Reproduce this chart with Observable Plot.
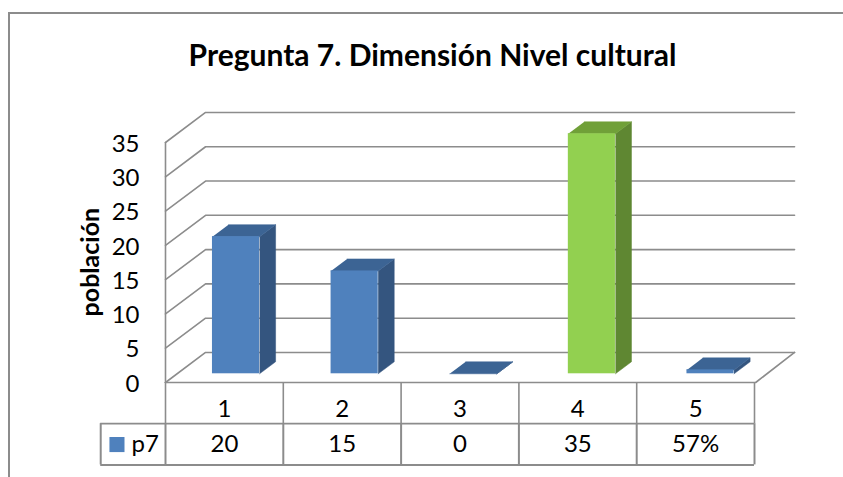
<!DOCTYPE html>
<html lang="es">
<head>
<meta charset="utf-8">
<script src="https://cdn.jsdelivr.net/npm/d3@7"></script>
<script src="https://cdn.jsdelivr.net/npm/@observablehq/plot@0.6"></script>
<style>
  html, body { margin: 0; padding: 0; background: #fff; overflow: hidden; }
  #frame { position: absolute; left: 8px; top: 12px; right: -4px; bottom: -4px;
           border-top: 2px solid #8c8c8c; border-left: 2px solid #8c8c8c; pointer-events: none; }
  #title { height: 90px; box-sizing: border-box; padding-top: 37px; padding-left: 22px; text-align: center;
           font: 700 30px Lato, sans-serif; color: #000; line-height: 34px; white-space: pre; }
  svg { display: block; }
</style>
</head>
<body>
<div id="frame"></div>
<div id="title">Pregunta 7. Dimensión Nivel cultural</div>
<div id="chart"></div>
<script>
const categories = [1, 2, 3, 4, 5];
const values = [20, 15, 0, 35, 0.57];
const tableLabels = ["20", "15", "0", "35", "57%"];
const yTicks = [0, 5, 10, 15, 20, 25, 30, 35];
const seriesName = "p7";
const yLabel = "población";
const barColors = ["blue", "blue", "blue", "green", "blue"];
const palette = {
  blue: {front: "#4f81bd", side: "#34557f", top: "#3c6494"},
  green: {front: "#92d050", side: "#5f8732", top: "#70a038"}
};

const grid = "#8c8c8c";
const font = "Lato, sans-serif";
// oblique projection of the depth axis, in data units of x and y
const depthX = 0.34, depthY = 4.38;
const px = (x, z) => x + z * depthX;
const py = (y, z) => y + z * depthY;
const barW = 0.4, zFront = 0.29, zBack = 0.69, barStep = 1.007;
const rowLines = [0, -6, -12.02], rowMid = [-3.95, -9.05];
const legendLeft = -0.55, legendSwatch = -0.412, legendText = -0.289;

const seg = (pts, o) => Plot.line(pts, {x: d => d[0], y: d => d[1], ...o});
const gridMarks = [
  seg([[px(0, 0), 0], [px(0, 0), 35]], {stroke: grid, strokeWidth: 1.6}),
  ...yTicks.map(t => seg([[px(0, 0), py(t, 0)], [px(0, 1), py(t, 1)], [px(5, 1), py(t, 1)]],
    {stroke: grid, strokeWidth: 1.6})),
  seg([[px(0, 0), 0], [px(5, 0) + 0.01, 0], [px(5, 1), py(0, 1)]], {stroke: grid, strokeWidth: 1.6})
];

const barMarks = categories.flatMap((c, i) => {
  const v = values[i], col = palette[barColors[i]];
  const x0 = (c - 1) * barStep + (1 - barW) / 2, x1 = x0 + barW;
  const poly = (pts, fill) => seg(pts, {fill, stroke: fill, strokeWidth: 0.5});
  return [
    poly([[px(x1, zFront), py(0, zFront)], [px(x1, zBack), py(0, zBack)], [px(x1, zBack), py(v, zBack)], [px(x1, zFront), py(v, zFront)]], col.side),
    poly([[px(x0, zFront), py(v, zFront)], [px(x1, zFront), py(v, zFront)], [px(x1, zBack), py(v, zBack)], [px(x0, zBack), py(v, zBack)]], col.top),
    Plot.rect([0], {x1: px(x0, zFront), x2: px(x1, zFront), y1: py(0, zFront), y2: py(v, zFront), fill: col.front})
  ];
});

const tableMarks = [
  Plot.ruleY([rowLines[1]], {x1: legendLeft, x2: 5, stroke: grid, strokeWidth: 1.6}),
  Plot.ruleY([rowLines[2]], {x1: legendLeft, x2: 5, stroke: grid, strokeWidth: 2}),
  Plot.ruleX([0, 1, 2, 3, 4, 5], {y1: rowLines[0], y2: rowLines[1], stroke: grid, strokeWidth: 1.6}),
  Plot.ruleX([0, 1, 2, 3, 4, 5], {y1: rowLines[1], y2: rowLines[2], stroke: grid, strokeWidth: 2}),
  Plot.ruleX([legendLeft], {y1: rowLines[1], y2: rowLines[2], stroke: grid, strokeWidth: 2}),
  Plot.text(categories, {x: d => d - 0.5, y: rowMid[0], text: d => String(d), fontSize: 24, fontFamily: font, fill: "#000"}),
  Plot.text(tableLabels, {x: (d, i) => i + 0.5, y: rowMid[1], text: d => d, fontSize: 24, fontFamily: font, fill: "#000"}),
  Plot.dot([seriesName], {x: legendSwatch, y: rowMid[1], r: 8.5, symbol: "square", fill: palette.blue.front}),
  Plot.text([seriesName], {x: legendText, y: rowMid[1], text: d => d, textAnchor: "start", fontSize: 24, fontFamily: font, fill: "#000"})
];

const chart = Plot.plot({
  width: 843, height: 387,
  marginLeft: 165, marginRight: 89, marginTop: 52, marginBottom: 95,
  style: {background: "transparent", overflow: "visible"},
  x: {type: "linear", domain: [0, 5], axis: null},
  y: {type: "linear", domain: [0, 35], axis: null},
  marks: [
    ...gridMarks,
    ...barMarks,
    ...tableMarks,
    Plot.axisY(yTicks, {anchor: "left", tickSize: 0, tickPadding: 26, dy: 1.5, label: null, fontSize: 24, fontFamily: font, fill: "#000"}),
    Plot.text([yLabel], {x: -0.635, y: 17.55, text: d => d, rotate: -90, fontSize: 25, fontWeight: 700, fontFamily: font, fill: "#000"})
  ]
});
document.getElementById("chart").append(chart);
</script>
</body>
</html>
